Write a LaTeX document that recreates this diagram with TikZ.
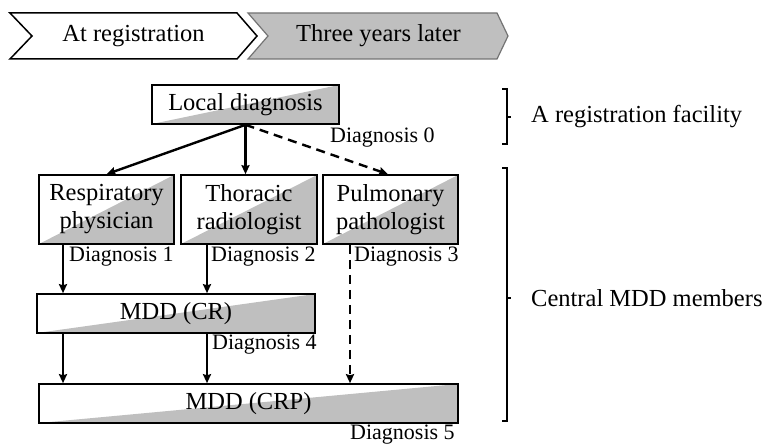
\documentclass[tikz,border=0pt]{standalone}
\usepackage{fontspec}
\setmainfont{Liberation Serif}
\usetikzlibrary{arrows.meta,calc}
\definecolor{boxgray}{gray}{0.75}
\tikzset{
  mainfont/.style={font=\fontsize{24.5}{28}\selectfont},
  labfont/.style={font=\fontsize{22}{26}\selectfont},
  halfbox/.style={draw=black, line width=1.6pt, mainfont, align=center, inner sep=0pt,
    path picture={\fill[boxgray] (path picture bounding box.south west) -- (path picture bounding box.north east) -- (path picture bounding box.south east) -- cycle;}},
  diaglab/.style={labfont, anchor=west, inner sep=0pt},
  sidelab/.style={mainfont, anchor=west, inner sep=0pt},
  arr/.style={line width=2.4pt, -{Stealth[length=9pt,width=8pt,inset=1pt]}},
  darr/.style={arr, dash pattern=on 9pt off 6pt},
  brk/.style={line width=2.6pt},
}
\begin{document}
\begin{tikzpicture}[x=1pt,y=-1pt]
\useasboundingbox (0,0) rectangle (767,446);
% chevrons
\draw[line width=1.5pt, fill=white] (10,13) -- (237,13) -- (257,36) -- (237,59) -- (10,59) -- (32,36) -- cycle;
\draw[line width=1.2pt, draw=black!55, fill=boxgray] (248,13) -- (497,13) -- (508,36) -- (497,59) -- (248,59) -- (268,36) -- cycle;
\node[mainfont] (t1) at (133.5,36) {At registration};
\node[mainfont] (t2) at (378.5,36) {Three years later};
% boxes
\node[halfbox, minimum width=187pt, minimum height=39pt] (local) at (245.5,104.5) {Local diagnosis};
\node[halfbox, minimum width=135pt, minimum height=69pt] (resp) at (106.5,209.5) {Respiratory\\physician};
\node[halfbox, minimum width=136pt, minimum height=69pt] (thor) at (249,209.5) {Thoracic\\radiologist};
\node[halfbox, minimum width=135pt, minimum height=69pt] (pulm) at (390.5,209.5) {Pulmonary\\pathologist};
\node[halfbox, minimum width=278pt, minimum height=39pt] (mddcr) at (176,313.5) {MDD (CR)};
\node[halfbox, minimum width=419pt, minimum height=39pt] (mddcrp) at (248.5,403.5) {MDD (CRP)};
% column coordinates
\coordinate (c1) at (63,0);
\coordinate (c2) at (207,0);
\coordinate (c3) at (350,0);
\coordinate (c4) at (388,0);
% connectors
\draw[arr] (local.south) -- (resp.north);
\draw[arr] (local.south) -- (local.south |- thor.north);
\draw[darr] (local.south) -- (c4 |- pulm.north);
\draw[arr] (c1 |- resp.south) -- (c1 |- mddcr.north);
\draw[arr] (c2 |- thor.south) -- (c2 |- mddcr.north);
\draw[arr] (c1 |- mddcr.south) -- (c1 |- mddcrp.north);
\draw[arr] (c2 |- mddcr.south) -- (c2 |- mddcrp.north);
\draw[darr] (c3 |- pulm.south) -- (c3 |- mddcrp.north);
% diagnosis labels
\node[diaglab] (d0) at (330,138) {Diagnosis 0};
\node[diaglab] (d1) at (69,257) {Diagnosis 1};
\node[diaglab] (d2) at (211,257) {Diagnosis 2};
\node[diaglab] (d3) at (354,257) {Diagnosis 3};
\node[diaglab] (d4) at (212,345) {Diagnosis 4};
\node[diaglab] (d5) at (350,435) {Diagnosis 5};
% brackets
\draw[brk] (502,89) -- (507,89) -- (507,144) -- (502,144);
\draw[brk] (507,117) -- (511,117);
\draw[brk] (502,168) -- (507,168) -- (507,421) -- (502,421);
\draw[brk] (507,298) -- (511,298);
\node[sidelab] (s1) at (531,117) {A registration facility};
\node[sidelab] (s2) at (531,298) {Central MDD members};
\end{tikzpicture}
\end{document}
